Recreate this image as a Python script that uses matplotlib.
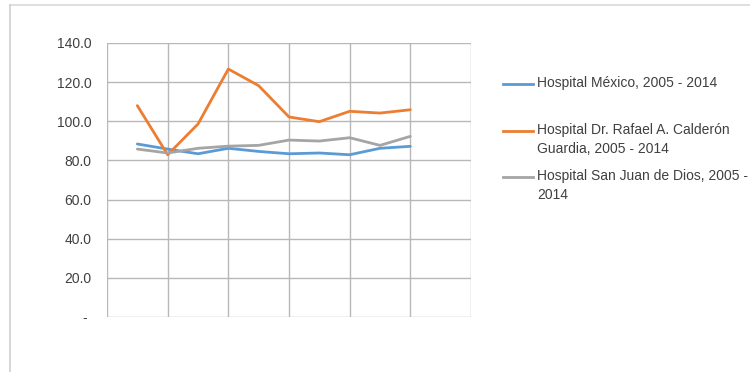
import matplotlib
matplotlib.use("Agg")
import matplotlib.pyplot as plt
from matplotlib.lines import Line2D

years = list(range(2005, 2015))
hospital_mexico = [88.4, 85.8, 83.4, 86.2, 84.6, 83.4, 83.8, 82.9, 86.2, 87.2]
calderon_guardia = [108.0, 82.9, 98.6, 126.7, 118.2, 102.2, 99.8, 105.1, 104.2, 105.9]
san_juan_de_dios = [85.8, 83.8, 86.2, 87.3, 87.7, 90.4, 89.9, 91.6, 87.7, 92.3]

series_labels = [
    "Hospital México, 2005 - 2014",
    "Hospital Dr. Rafael A. Calderón\nGuardia, 2005 - 2014",
    "Hospital San Juan de Dios, 2005 -\n2014",
]
colors = ["#5b9bd5", "#ed7d31", "#a5a5a5"]
yticks = [0, 20, 40, 60, 80, 100, 120, 140]
ytick_labels = ["- " if v == 0 else f"{v:.1f}" for v in yticks]

plt.rcParams['font.family'] = ['Liberation Sans', 'DejaVu Sans']

fig = plt.figure(figsize=(7.5, 3.72), dpi=100)
ax = fig.add_axes([107/750, 1-317/372, (471-107)/750, (317-43)/372])

# categories: 13 slots, data in slots 1..10
xpos = [i + 1 for i in range(len(years))]
series = [hospital_mexico, calderon_guardia, san_juan_de_dios]
for vals, c in zip(series, colors):
    ax.plot(xpos, vals, color=c, lw=2.0, solid_capstyle='round', zorder=3)

ax.set_xlim(0, 12)
ax.set_ylim(0, 140)
ax.set_yticks(yticks)
ax.set_yticklabels(ytick_labels, fontsize=10, color="#404040")
ax.set_xticks(range(0, 13, 2))
ax.set_xticklabels([])
ax.tick_params(length=0, pad=11)
ax.grid(True, color="#b8b8b8", lw=1.0)
for s in ax.spines.values():
    s.set_visible(False)

# legend (manual)
leg_y = [84, 131, 177]
for lab, c, y in zip(series_labels, colors, leg_y):
    fy = 1 - y/372
    fig.add_artist(Line2D([503/750, 533/750], [fy, fy], color=c, lw=2.0))
    fig.text(537/750, 1 - (y - 8)/372, lab, fontsize=10, color="#404040",
             va='top', ha='left', linespacing=1.45)

# outer frame lines
fig.add_artist(Line2D([10/750, 1], [1-4.5/372, 1-4.5/372], color="#d9d9d9", lw=1.2))
fig.add_artist(Line2D([10/750, 10/750], [0, 1-4.5/372], color="#d0d0d0", lw=1.2))

fig.savefig("out.png", dpi=100)
